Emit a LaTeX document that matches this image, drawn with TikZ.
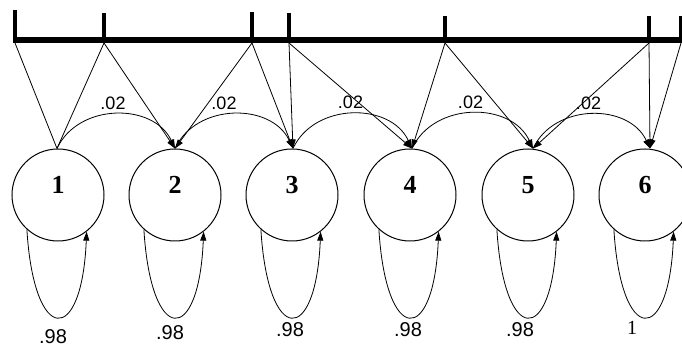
\documentclass[tikz,border=0pt]{standalone}
\usepackage{fontspec}
\setmainfont{Liberation Serif}
\newfontfamily\labsans{Liberation Sans}
\usetikzlibrary{arrows.meta,calc}
\begin{document}
\begin{tikzpicture}[x=1pt,y=1pt,
  state/.style={circle,draw,line width=1pt,minimum size=92pt,inner sep=0pt},
  num/.style={font=\fontsize{26}{26}\selectfont\bfseries,inner sep=0pt},
  conn/.style={line width=0.8pt},
  arr/.style={conn,-{Triangle[length=9pt,width=6pt]}},
  lab/.style={font=\labsans\fontsize{18}{18}\selectfont,inner sep=0pt},
  loopl/.style={font=\labsans\fontsize{20}{20}\selectfont,inner sep=0pt},
  loopone/.style={font=\fontsize{20}{20}\selectfont,inner sep=0pt},
  barline/.style={line width=6pt},
  tickline/.style={line width=3.5pt}
]
\useasboundingbox (0,0) rectangle (682,347);
\clip (0,0) rectangle (682,347);

% states
\node[state] (c1) at (58,152) {};
\node[state] (c2) at (175,152) {};
\node[state] (c3) at (292,152) {};
\node[state] (c4) at (410,152) {};
\node[state] (c5) at (528,152) {};
\node[state] (c6) at (645,152) {};
\node[num] (n1) at ($(c1)+(0,10)$) {1};
\node[num] (n2) at ($(c2)+(0,10)$) {2};
\node[num] (n3) at ($(c3)+(0,10)$) {3};
\node[num] (n4) at ($(c4)+(0,10)$) {4};
\node[num] (n5) at ($(c5)+(0,10)$) {5};
\node[num] (n6) at ($(c6)+(0,10)$) {6};

% arrow tips on circle tops
\coordinate (t1) at ($(c1.north)+(-1,0)$);
\coordinate (t2) at ($(c2.north)+(0,0)$);
\coordinate (t3) at ($(c3.north)+(1,0)$);
\coordinate (t4) at ($(c4.north)+(2,0)$);
\coordinate (t5) at ($(c5.north)+(5,0)$);
\coordinate (t6) at ($(c6.north)+(5,0)$);

% bar with ticks
\coordinate (k1) at (15,307);
\coordinate (k2) at (104,307);
\coordinate (k3) at (252,307);
\coordinate (k4) at (289,307);
\coordinate (k5) at (445,307);
\coordinate (k6) at (649,307);
\coordinate (k7) at (681,307);
\coordinate (bl) at (13,307);
\coordinate (br) at (682,307);
\draw[barline] (bl) -- (br);
\draw[tickline] (k1) -- ++(0,30);
\draw[tickline] (k2) -- ++(0,27);
\draw[tickline] (k3) -- ++(0,28);
\draw[tickline] (k4) -- ++(0,27);
\draw[tickline] (k5) -- ++(0,24);
\draw[tickline] (k6) -- ++(0,24);
\draw[tickline] (k7) -- ++(0,24);
\foreach \i in {1,...,7} {\coordinate (b\i) at ($(k\i)+(0,-3)$);}

% lines from bar
\draw[conn] (b1) -- (t1);
\draw[conn] (b2) -- (t1);
\draw[arr] (b2) -- (t2);
\draw[arr] (b3) -- (t2);
\draw[arr] (b3) -- (t3);
\draw[arr] (b4) -- (t3);
\draw[arr] (b4) -- (t4);
\draw[arr] (b5) -- (t4);
\draw[arr] (b5) -- (t5);
\draw[arr] (b6) -- (t5);
\draw[arr] (b6) -- (t6);
\draw[arr] (b7) -- (t6);

% transitions
\draw[arr] (t1) to[out=65,in=115,looseness=1.1] coordinate[pos=0.5] (m1) (t2);
\draw[arr] (t2) to[out=65,in=115,looseness=1.1] coordinate[pos=0.5] (m2) (t3);
\draw[arr] (t3) to[out=65,in=115,looseness=1.1] coordinate[pos=0.5] (m3) (t4);
\draw[arr] (t4) to[out=65,in=115,looseness=1.1] coordinate[pos=0.5] (m4) (t5);
\draw[arr] (t5) to[out=65,in=115,looseness=1.1] coordinate[pos=0.5] (m5) (t6);
\node[lab] (p1) at ($(m1)+(-3,11)$) {.02};
\node[lab] (p2) at ($(m2)+(-10,11)$) {.02};
\node[lab] (p3) at ($(m3)+(-2,11)$) {.02};
\node[lab] (p4) at ($(m4)+(-2,11)$) {.02};
\node[lab] (p5) at ($(m5)+(-3,11)$) {.02};

% self loops
\foreach \i in {1,...,6} {
  \draw[arr] (c\i.228) .. controls ($(c\i)+(-24,-151)$) and ($(c\i)+(24,-151)$) .. (c\i.-52);
}
\node[loopl] (s1) at ($(c1)+(-5,-142)$) {.98};
\node[loopl] (s2) at ($(c2)+(-5,-138)$) {.98};
\node[loopl] (s3) at ($(c3)+(-2,-135)$) {.98};
\node[loopl] (s4) at ($(c4)+(-2,-135)$) {.98};
\node[loopl] (s5) at ($(c5)+(-8,-135)$) {.98};
\node[loopone] (s6) at ($(c6)+(-13,-133)$) {1};
\end{tikzpicture}
\end{document}
